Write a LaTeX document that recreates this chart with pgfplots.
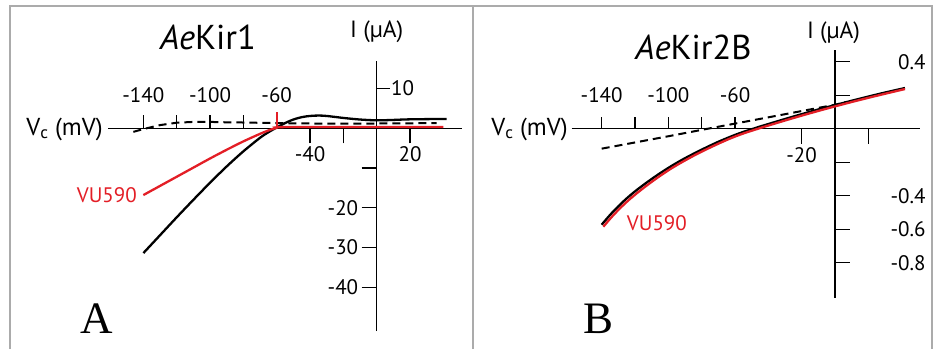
\documentclass[border=0pt]{standalone}
\usepackage{pgfplots}
\pgfplotsset{compat=1.18}
\usepackage{fontspec}
\setmainfont{PT Sans}
\newfontfamily\serifA{Liberation Serif}
\definecolor{vured}{HTML}{E31E26}
\definecolor{framegray}{HTML}{ABABAB}
\newcommand{\fs}[1]{\fontsize{#1bp}{#1bp}\selectfont}

\pgfplotsset{
  iv/.style={
    scale only axis, axis lines=middle, clip=false, enlargelimits=false,
    axis line style={-, line width=1.1bp, black},
    every inner x axis line/.append style={-},
    every inner y axis line/.append style={-},
    tick style={black, line width=1.1bp},
    major tick length=15bp,
    tick label style={font=\fs{21}, text=black},
  },
  dashedcurve/.style={black, line width=2bp, dash pattern=on 8bp off 5bp},
  blackcurve/.style={black, line width=2.3bp},
  redcurve/.style={vured, line width=2.3bp},
}

\begin{document}
\begin{tikzpicture}[x=1bp,y=1bp]
\useasboundingbox (0,0) rectangle (933,349);
\draw[framegray, line width=2bp] (10,0) -- (10,343) -- (932,343) -- (932,0);
\draw[framegray, line width=2bp] (473.3,0) -- (473.3,343);

% ---------------- Panel A ----------------
\begin{axis}[iv, at={(108.37bp,18bp)}, anchor=south west,
  width=353.3bp, height=270.3bp,
  xmin=-161, xmax=51, ymin=-51, ymax=17,
  xtick={-40,-20,20}, xticklabels={-40,,20}, xtick align=outside,
  extra x ticks={-140,-120,-100,-80,-60}, extra x tick labels={-140,,-100,,-60},
  extra x tick style={xtick align=inside, major tick length=13bp,
     xticklabel style={anchor=south, yshift=22bp}},
  ytick={-10,-20,-30,-40}, yticklabels={,-20,-30,-40}, ytick align=outside,
  extra y ticks={10}, extra y tick labels={10},
  extra y tick style={ytick align=inside, major tick length=13bp,
     yticklabel style={anchor=west, xshift=11bp}},
]
\addplot[dashedcurve] coordinates {
 (-146,-0.9) (-140,-0.2) (-130,0.8) (-120,1.4) (-110,1.6) (-100,1.6)
 (-90,1.5) (-80,1.45) (-60,1.3) (-40,1.2) (0,1.2) (36,1.3)};
\addplot[blackcurve, smooth] coordinates {
 (-140,-31.4) (-130,-26.9) (-120,-22.4) (-110,-18.0) (-100,-13.7) (-90,-9.6)
 (-80,-5.8) (-70,-2.4) (-65,-1.0) (-60,0.2) (-55,1.3) (-50,2.2) (-45,2.8)
 (-40,3.1) (-35,3.2) (-30,3.1) (-20,2.6) (-10,2.2) (0,2.0) (10,2.1) (20,2.25) (42,2.35)};
\addplot[redcurve, smooth] coordinates {
 (-140,-16.8) (-130,-14.5) (-120,-12.2) (-110,-9.9) (-100,-7.6) (-90,-5.4)
 (-80,-3.3) (-70,-1.4) (-64,-0.4) (-60,0.1) (-55,0.3) (0,0.3) (40,0.3)};
\addplot[vured, line width=2bp] coordinates {(-60,0) (-60,4.2)};
\end{axis}

% ---------------- Panel B ----------------
\begin{axis}[iv, at={(571.67bp,51.1bp)}, anchor=south west,
  width=348.3bp, height=247.9bp,
  xmin=-158, xmax=51, ymin=-1.01, ymax=0.47,
  xtick={-20,20}, xticklabels={-20,}, xtick align=outside,
  extra x ticks={-140,-120,-100,-80,-60}, extra x tick labels={-140,,-100,,-60},
  extra x tick style={xtick align=inside, major tick length=12bp,
     xticklabel style={anchor=south, yshift=22bp}},
  ytick={0.4,0.2,-0.2,-0.4,-0.6,-0.8}, yticklabels={0.4,,,-0.4,-0.6,-0.8},
  ytick align=inside,
  yticklabel style={anchor=east, xshift=94bp},
]
\addplot[dashedcurve] coordinates {
 (-140,-0.119) (-100,-0.045) (-79,-0.005) (-40,0.068) (0,0.143) (7,0.160)};
\addplot[blackcurve, smooth] coordinates {
 (-140,-0.573) (-135,-0.515) (-130,-0.463) (-125,-0.416) (-120,-0.374) (-115,-0.336)
 (-110,-0.300) (-105,-0.266) (-100,-0.234) (-95,-0.204) (-90,-0.176) (-85,-0.150)
 (-80,-0.125) (-75,-0.101) (-70,-0.078) (-65,-0.057) (-60,-0.037) (-55,-0.019)
 (-50,-0.003) (-45,0.013) (-40,0.028) (-30,0.058) (-20,0.087) (-10,0.115)
 (0,0.141) (10,0.167) (20,0.192) (30,0.216) (42,0.243)};
\addplot[redcurve, smooth] coordinates {
 (-139,-0.585) (-134,-0.527) (-129,-0.475) (-124,-0.428) (-119,-0.386) (-114,-0.347)
 (-109,-0.310) (-104,-0.275) (-99,-0.242) (-94,-0.212) (-89,-0.184) (-84,-0.157)
 (-79,-0.132) (-74,-0.108) (-69,-0.085) (-64,-0.063) (-59,-0.043) (-54,-0.025)
 (-49,-0.009) (-44,0.007) (-39,0.022) (-29,0.052) (-19,0.081) (-9,0.109)
 (1,0.136) (11,0.162) (21,0.187) (31,0.211) (42,0.237)};
\end{axis}

% ---------------- Texts ----------------
\node[font=\fs{34.5}] at (208,311.5) {\textit{Ae}Kir1};
\node[font=\fs{34.5}] at (693.5,301.5) {\textit{Ae}Kir2B};
\node[font=\fs{23.5}] at (376.7,317) {I (µA)};
\node[font=\fs{23.5}] at (833.5,316.5) {I (µA)};
\node[font=\fs{24.5}, anchor=base east, inner sep=0pt] at (103,214) {V\textsubscript{c} (mV)};
\node[font=\fs{24.5}, anchor=base east, inner sep=0pt] at (568,214) {V\textsubscript{c} (mV)};
\node[font=\fs{21}, text=vured, anchor=base east, inner sep=0pt] at (137,146.5) {VU590};
\node[font=\fs{21}, text=vured, anchor=base west, inner sep=0pt] at (626.7,119) {VU590};
\node[font=\serifA\fs{45}, anchor=base west, inner sep=0pt] at (80,16) {A};
\node[font=\serifA\fs{45}, anchor=base west, inner sep=0pt] at (583,16) {B};
\end{tikzpicture}
\end{document}
